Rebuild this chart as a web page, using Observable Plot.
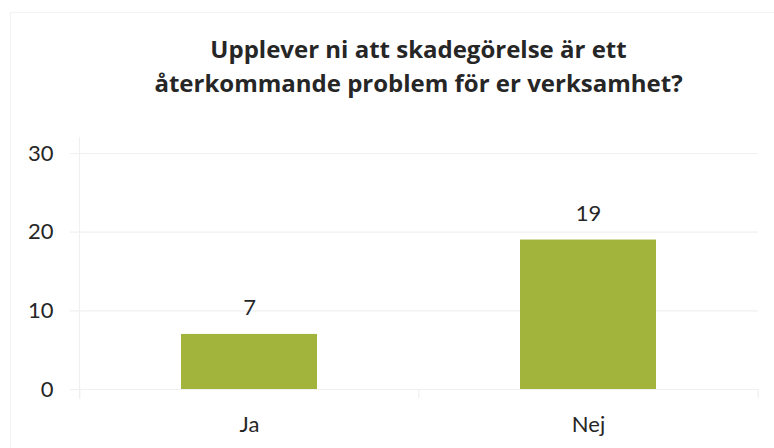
<!DOCTYPE html>
<html>
<head>
<meta charset="utf-8">
<script src="https://cdn.jsdelivr.net/npm/d3@7"></script>
<script src="https://cdn.jsdelivr.net/npm/@observablehq/plot@0.6"></script>
<style>
  html, body { margin: 0; padding: 0; background: #fff; }
  #wrap { position: relative; width: 774px; height: 448px; overflow: hidden; font-family: Lato, "Open Sans", sans-serif; }
  #frame { position: absolute; left: 10px; top: 12px; width: 780px; height: 460px; border: 1px solid #f3f3f3; box-sizing: border-box; }
  #title { position: absolute; left: 0; top: 31.5px; width: 837px; text-align: center; font-family: "Open Sans", sans-serif; font-weight: bold; font-size: 24px; line-height: 34px; color: #262626; }
  #chart { position: absolute; left: 0; top: 0; }
</style>
</head>
<body>
<div id="wrap">
  <div id="frame"></div>
  <div id="chart"></div>
  <div id="title">Upplever ni att skadegörelse är ett<br>återkommande problem för er verksamhet?</div>
</div>
<script>
const categories = ["Ja", "Nej"];
const values = [7, 19];
const yTicks = [0, 10, 20, 30];

const data = categories.map((c, i) => ({category: c, value: values[i]}));

const W = 774, H = 448, mL = 79, mR = 16, mT = 153, mB = 59;
const half = (W - mL - mR) / categories.length / 2;

const chart = Plot.plot({
  width: W,
  height: H,
  marginLeft: mL,
  marginRight: mR,
  marginTop: mT,
  marginBottom: mB,
  style: {fontFamily: "Lato, 'Open Sans', sans-serif", fontSize: "22px", color: "#262626", background: "transparent", overflow: "visible"},
  x: {domain: categories, paddingInner: 0.6, paddingOuter: 0.3, label: null},
  y: {domain: [0, 30], label: null},
  marks: [
    Plot.ruleY(yTicks, {stroke: "#f0f0f0", strokeWidth: 1.2, insetLeft: -9}),
    Plot.frame({anchor: "left", stroke: "#f0f0f0", strokeWidth: 1.2, insetTop: -16, insetBottom: -9}),
    Plot.ruleX(categories, {x: d => d, dx: -half, y1: 0, y2: -1.15, stroke: "#f0f0f0", strokeWidth: 1.2}),
    Plot.ruleX(categories.slice(-1), {x: d => d, dx: half, y1: 0, y2: -1.15, stroke: "#f0f0f0", strokeWidth: 1.2}),
    Plot.barY(data, {x: "category", y: "value", fill: "#a2b43b"}),
    Plot.text(data, {x: "category", y: "value", text: d => String(d.value), dy: -26, lineAnchor: "middle", fill: "#262626", fontSize: 22}),
    Plot.axisY({ticks: yTicks, tickSize: 0, tickPadding: 26, fontSize: 22, fill: "#262626"}),
    Plot.axisX({tickSize: 0, tickPadding: 27, fontSize: 22, fill: "#262626"})
  ]
});
document.getElementById("chart").appendChild(chart);
</script>
</body>
</html>
